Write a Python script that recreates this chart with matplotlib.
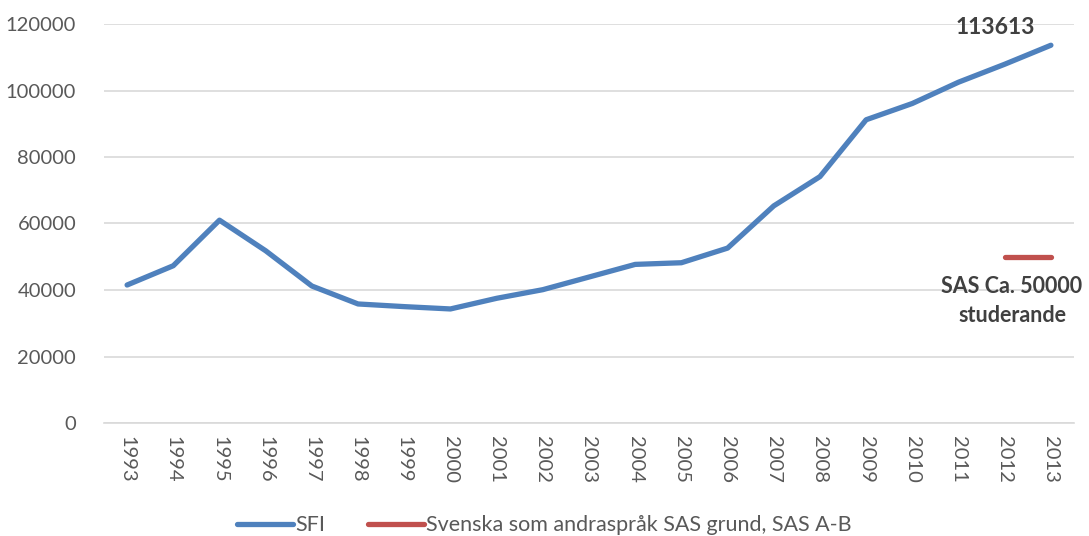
import matplotlib
matplotlib.use("Agg")
import matplotlib.pyplot as plt

years = [str(y) for y in range(1993, 2014)]
sfi = [41500, 47300, 61000, 51800, 41200, 35800, 35000, 34300, 37500, 40100,
       43900, 47700, 48200, 52600, 65300, 74100, 91200, 96100, 102500, 107900, 113613]
sas_years = ["2012", "2013"]
sas = [50000, 50000]
yticks = [0, 20000, 40000, 60000, 80000, 100000, 120000]

plt.rcParams['font.family'] = ['Lato', 'DejaVu Sans']

fig = plt.figure(figsize=(10.89, 5.36), dpi=100)
ax = fig.add_axes([104/1089, 1-423/536, (1074-104)/1089, (423-24)/536])

x = list(range(len(years)))
sas_x = [years.index(y) for y in sas_years]

ax.plot(x, sfi, color='#4F81BD', lw=3.8, solid_capstyle='round', solid_joinstyle='round',
        label='SFI', zorder=3)
ax.plot(sas_x, sas, color='#C0504D', lw=3.8, solid_capstyle='round',
        label='Svenska som andraspråk SAS grund, SAS A-B', zorder=3)

ax.set_xlim(-0.5, len(years) - 0.5)
ax.set_ylim(0, 120000)
ax.set_yticks(yticks)
ax.set_yticklabels([str(v) for v in yticks])
ax.set_xticks(x)
ax.set_xticklabels(years, rotation=-90)
ax.tick_params(axis='both', colors='#595959', labelsize=14.5, length=0)
ax.tick_params(axis='y', pad=20)
ax.tick_params(axis='x', pad=9)
ax.grid(axis='y', color='#D9D9D9', lw=1.2)
ax.set_axisbelow(True)
for s in ['top', 'right', 'left']:
    ax.spines[s].set_visible(False)
ax.spines['bottom'].set_color('#D9D9D9')
ax.spines['bottom'].set_linewidth(1.2)

ax.annotate(str(sfi[-1]), xy=(x[-1], sfi[-1]), xytext=(-40, 13), textcoords='offset points',
            ha='center', va='center', fontsize=16.5, fontweight='bold', color='#404040')
ax.annotate('SAS Ca. 50000\nstuderande', xy=(sas_x[-1], sas[-1]), xytext=(-28, -32),
            textcoords='offset points', ha='center', va='center', fontsize=15.5,
            fontweight='bold', color='#404040', linespacing=1.5, multialignment='center')

leg = fig.legend(loc='lower center', bbox_to_anchor=(0.5, -0.035), ncol=2, frameon=False,
                 fontsize=15.5, handlelength=2.6, columnspacing=2.0, handletextpad=0.1)
for t in leg.get_texts():
    t.set_color('#595959')

fig.savefig('out.png', dpi=100)
